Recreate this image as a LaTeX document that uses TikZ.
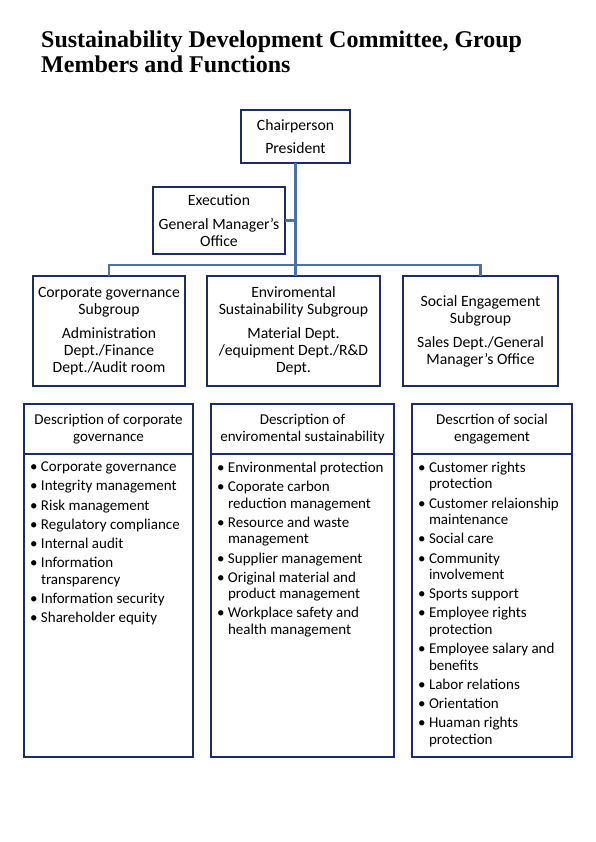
\documentclass[tikz,border=0pt]{standalone}
\usepackage{fontspec}
\setmainfont{Carlito}
\newfontfamily\titlefont{Liberation Serif}
\usetikzlibrary{positioning}

\definecolor{navy}{HTML}{1B2D63}
\definecolor{steel}{HTML}{4A72A8}

% one bullet line of a duty list
\newcommand{\duty}[1]{\par\hangindent=11pt\hangafter=1\noindent\makebox[11pt][l]{\textbullet}#1}
% a duty list, top aligned in its box
\newcommand{\dutylist}[2]{\parbox[c][287pt][t]{#1}{\raggedright\fontsize{15}{16.5}\selectfont\setlength{\parskip}{2.7pt}#2}}

\begin{document}
\begin{tikzpicture}[x = 1pt, y = -1pt,
		org_box/.style = {rectangle, draw = navy, line width = 2pt, fill = white, align = center, inner sep = 0pt, outer sep = 0pt, font = \fontsize{15.7}{17}\selectfont},
		head_box/.style = {org_box, minimum height = 50pt, font = \fontsize{15}{17}\selectfont},
		list_box/.style = {rectangle, draw = navy, line width = 1.7pt, fill = white, inner sep = 0pt, outer sep = 0pt, minimum height = 303pt},
		link/.style = {draw = steel, line width = 2.2pt},
		]
		\useasboundingbox (0,0) rectangle (595,842);

		%title
		\node[anchor = north west, align = left, inner sep = 0pt, font = \titlefont\bfseries\fontsize{24}{25}\selectfont] (title) at (41,31) {Sustainability Development Committee, Group\\Members and Functions};

		%top
		\node[org_box, minimum width = 109pt, minimum height = 53pt] (chair) at (295.5,136.5) {Chairperson\\[6pt]President};
		\node[org_box, minimum width = 132pt, minimum height = 67pt, below left = 24pt and -44pt of chair] (exec) {Execution\\[7pt]General Manager's\\Office};

		%subgroups
		\node[org_box, minimum width = 152pt, minimum height = 110pt] (sgov) at (109,331) {Corporate governance\\Subgroup\\[7pt]Administration\\Dept./Finance\\Dept./Audit room};
		\node[org_box, minimum width = 173pt, minimum height = 110pt, right = 22pt of sgov] (senv) {Enviromental\\Sustainability Subgroup\\[7pt]Material Dept.\\/equipment Dept./R\&D\\Dept.};
		\node[org_box, minimum width = 155pt, minimum height = 110pt, right = 23pt of senv] (ssoc) {Social Engagement\\Subgroup\\[7pt]Sales Dept./General\\Manager's Office};

		%links
		\coordinate[below = 102pt of chair.south] (bar);
		\draw[link] (chair.south) -- (chair.south |- senv.north);
		\draw[link] (exec.east) -- (exec.east -| chair.south);
		\draw[link] (sgov.north) -- (sgov.north |- bar) -- (ssoc.north |- bar) -- (ssoc.north);

		%descriptions
		\node[head_box, minimum width = 169pt] (dgov) at (108.5,429) {Description of corporate\\governance};
		\node[head_box, minimum width = 183pt, right = 18pt of dgov] (denv) {Description of\\enviromental sustainability};
		\node[head_box, minimum width = 160pt, right = 18pt of denv] (dsoc) {Descrtion of social\\engagement};

		\node[list_box, minimum width = 169pt, below = 0pt of dgov] (lgov) {\dutylist{157pt}{%
			\duty{Corporate governance}
			\duty{Integrity management}
			\duty{Risk management}
			\duty{Regulatory compliance}
			\duty{Internal audit}
			\duty{Information\newline transparency}
			\duty{Information security}
			\duty{Shareholder equity}}};
		\node[list_box, minimum width = 183pt, below = 0pt of denv] (lenv) {\dutylist{171pt}{%
			\duty{Environmental protection}
			\duty{Coporate carbon\newline reduction management}
			\duty{Resource and waste\newline management}
			\duty{Supplier management}
			\duty{Original material and\newline product management}
			\duty{Workplace safety and\newline health management}}};
		\node[list_box, minimum width = 160pt, below = 0pt of dsoc] (lsoc) {\dutylist{148pt}{%
			\duty{Customer rights\newline protection}
			\duty{Customer relaionship\newline maintenance}
			\duty{Social care}
			\duty{Community\newline involvement}
			\duty{Sports support}
			\duty{Employee rights\newline protection}
			\duty{Employee salary and\newline benefits}
			\duty{Labor relations}
			\duty{Orientation}
			\duty{Huaman rights\newline protection}}};

\end{tikzpicture}
\end{document}
